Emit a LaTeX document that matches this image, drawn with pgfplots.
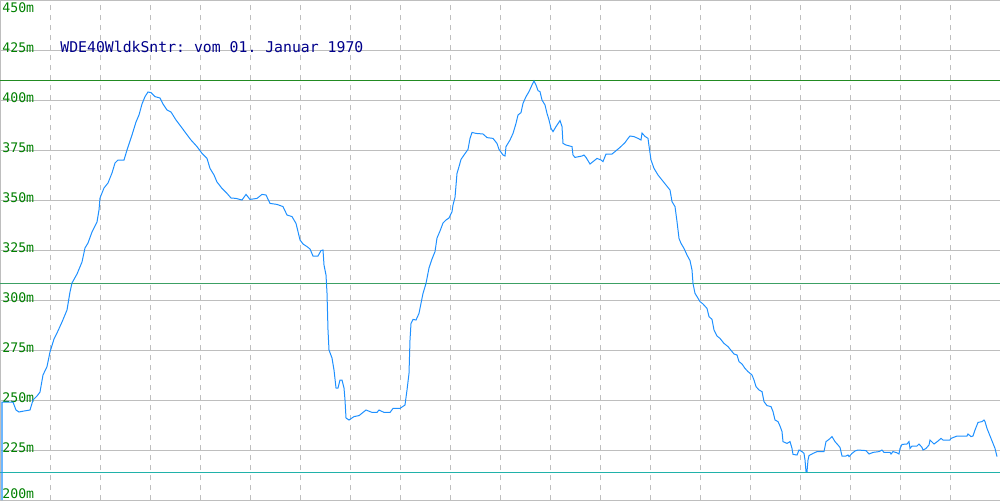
\documentclass[border=0pt]{standalone}
\usepackage{pgfplots}
\pgfplotsset{compat=1.18}
\usepackage{fontspec}
\setmonofont{DejaVu Sans Mono}
\definecolor{curve}{RGB}{30,144,255}
\definecolor{topgreen}{RGB}{34,139,34}
\definecolor{midgreen}{RGB}{60,160,100}
\definecolor{lowcyan}{RGB}{32,178,170}
\definecolor{gridgray}{RGB}{190,190,190}
\definecolor{labgreen}{RGB}{0,128,0}
\definecolor{titleblue}{RGB}{0,0,139}
\begin{document}
\begin{tikzpicture}
\begin{axis}[
  width=500pt, height=250pt, scale only axis,
  xmin=0, xmax=1000, ymin=200, ymax=450,
  axis x line*=bottom, axis y line*=left,
  axis line style={draw=gridgray, line width=0.5pt, -},
  xtick={50,100,...,950}, xticklabels={},
  ytick={225,250,...,425},
  extra y ticks={200,450},
  extra y tick labels={},
  /pgf/number format/assume math mode=true,
  yticklabel={\pgfmathprintnumber{\tick}m},
  yticklabel style={anchor=west, inner sep=0pt, xshift=1pt, yshift=1pt,
     font=\ttfamily\fontsize{6.6}{7}\selectfont, text=labgreen},
  major tick length=0pt,
  xmajorgrids, ymajorgrids,
  x grid style={gridgray, line width=0.5pt, dash pattern=on 2.5pt off 2.5pt},
  y grid style={gridgray, line width=0.5pt},
  clip=true,
]
\addplot[topgreen, line width=0.5pt] coordinates {(0,410) (1000,410)};
\addplot[midgreen, line width=0.5pt] coordinates {(0,308.5) (1000,308.5)};
\addplot[lowcyan, line width=0.5pt] coordinates {(0,213.8) (1000,213.8)};
\addplot[curve, line width=0.5pt, sharp plot] coordinates {
(2,200) (2,249) (13,249) (16,245) (19,244) (24,244.5) (30,245) (33,250) (37,252) (40,254) (43,262.5) (47,266.7) (50,274) (54,280.5) (57,283.5) (62,289) (67,295) (70,304) (72,308.5) (77,313) (82,319) (85,326) (88,328.5) (92,334) (97,339) (99,345) (100,351) (104,356) (108,358.5) (112,363.5) (115,368.5) (118,370) (124,370) (127,375) (132,382.5) (136,389) (139,392.5) (142,398) (145,401.7) (148,404) (151,403.7) (155,401.7) (160,401) (163,398) (167,395) (171,394) (176,390) (181,386.7) (186,383.3) (191,380) (197,376.7) (202,373.3) (207,370.8) (210,365.8) (214,362.5) (217,359) (222,355.8) (227,353.3) (231,351) (236,350.8) (242,350) (246,352.8) (250,350.3) (257,350.8) (262,352.8) (266,352.5) (270,348.3) (277,347.8) (283,346.7) (287,342.5) (292,341.7) (296,338.3) (298,334.2) (300,330) (303,328) (307,326.7) (310,325.5) (313,322) (318,322) (321,324.7) (323,325) (324,317.5) (326,312.5) (327,303.5) (328,285) (329,275) (332,271) (334,265) (336,256) (338,256) (340,260) (342,260) (344,256) (345,250) (346,241) (349,240) (354,241.7) (359,242.2) (366,245) (372,243.8) (377,243.8) (379,245) (384,243.8) (390,243.8) (393,245.8) (400,245.8) (405,247.5) (407,255) (409,263.3) (410,280) (411,288.3) (413,290.3) (416,290) (419,293.3) (421,298.3) (423,303.3) (426,308.3) (429,316) (432,320.5) (435,324.2) (437,331) (440,334.5) (443,338.5) (446,340) (449,341) (452,344.2) (453,347.5) (455,351.3) (457,363.3) (459,366.7) (461,370.3) (464,372.5) (468,375.3) (470,380.8) (472,383.8) (476,383.3) (483,383) (487,381.2) (493,380.8) (497,378.3) (499,375.3) (503,372.5) (505,372) (506,376.7) (510,380) (513,383.3) (516,388.3) (518,392.5) (521,393.7) (523,398.3) (526,401.7) (529,404.2) (532,407.5) (534,409.5) (536,407.5) (538,404.7) (540,404.2) (542,400) (545,397.5) (547,393.3) (549,390) (551,385.8) (553,384.2) (556,386.7) (560,389.7) (562,386.7) (563,378.3) (566,377.5) (572,376.7) (573,372.5) (575,371.3) (582,372) (584,372.5) (586,371.3) (590,368) (593,369.2) (597,370.8) (601,370) (603,369.2) (606,373) (612,373) (615,374.2) (620,376.3) (625,378.7) (628,380.8) (630,382) (634,381.7) (638,380.8) (641,380) (642,383.5) (645,381.8) (648,380.8) (649,377) (651,370) (654,365.8) (658,362.5) (662,360) (666,357.5) (670,355) (672,349.2) (675,346.7) (677,339.2) (679,330.8) (681,328.3) (684,325.8) (687,322.5) (690,319.7) (692,315) (693,308.3) (695,303.3) (697,301.7) (700,299.2) (703,298) (707,295.8) (709,291.7) (712,290.3) (714,285) (717,282) (720,280.8) (724,278.3) (728,276.7) (734,273) (737,272.5) (739,269.2) (742,268) (745,265.8) (748,264.2) (752,262.5) (754,260) (756,256.7) (759,255) (762,254.2) (764,249.2) (767,247.2) (771,246.7) (773,244.2) (775,240) (778,239.2) (780,237) (782,234.2) (783,229.2) (787,228.3) (790,229.2) (791,227.5) (792,225.8) (793,222.8) (797,222.5) (799,225) (802,224.2) (804,223.3) (805,220) (806,214.2) (807,214.2) (808,220) (809,222.2) (813,223.3) (817,224.2) (824,224.2) (826,229.2) (829,230.3) (832,231.7) (835,229.2) (838,227.5) (840,226.3) (842,222) (846,222) (848,222.5) (849,221.7) (852,223.3) (855,224.5) (858,225) (866,224.7) (869,223) (873,223.8) (879,224.2) (882,225) (884,223.8) (890,223.8) (891,223) (893,224.2) (897,223.6) (899,223) (900,225.8) (902,227.8) (907,228) (909,229.2) (910,225.8) (912,227) (917,227) (919,228) (922,226.3) (923,225) (926,225.8) (929,227.5) (930,230) (934,228) (938,229.5) (941,230.8) (943,230) (950,230) (951,230.8) (957,232) (967,232) (968,233) (971,231.7) (973,232) (975,235) (978,238.8) (982,239.2) (984,240) (985,239.2) (987,235.8) (991,230.8) (995,225.8) (997,221.7)
};
\node[anchor=west, inner sep=0pt, xshift=1pt, text=labgreen, font=\ttfamily\fontsize{6.6}{7}\selectfont]
  at (axis cs:0,446) {450m};
\node[anchor=west, inner sep=0pt, xshift=1pt, text=labgreen, font=\ttfamily\fontsize{6.6}{7}\selectfont]
  at (axis cs:0,203) {200m};
\node[anchor=base west, inner sep=0pt, text=titleblue, font=\ttfamily\fontsize{7.4}{9}\selectfont]
  at (axis cs:60,423.6) {WDE40WldkSntr: vom 01. Januar 1970};
\end{axis}
\pgfresetboundingbox
\path[use as bounding box] (current axis.south west) rectangle (current axis.north east);
\end{tikzpicture}
\end{document}
